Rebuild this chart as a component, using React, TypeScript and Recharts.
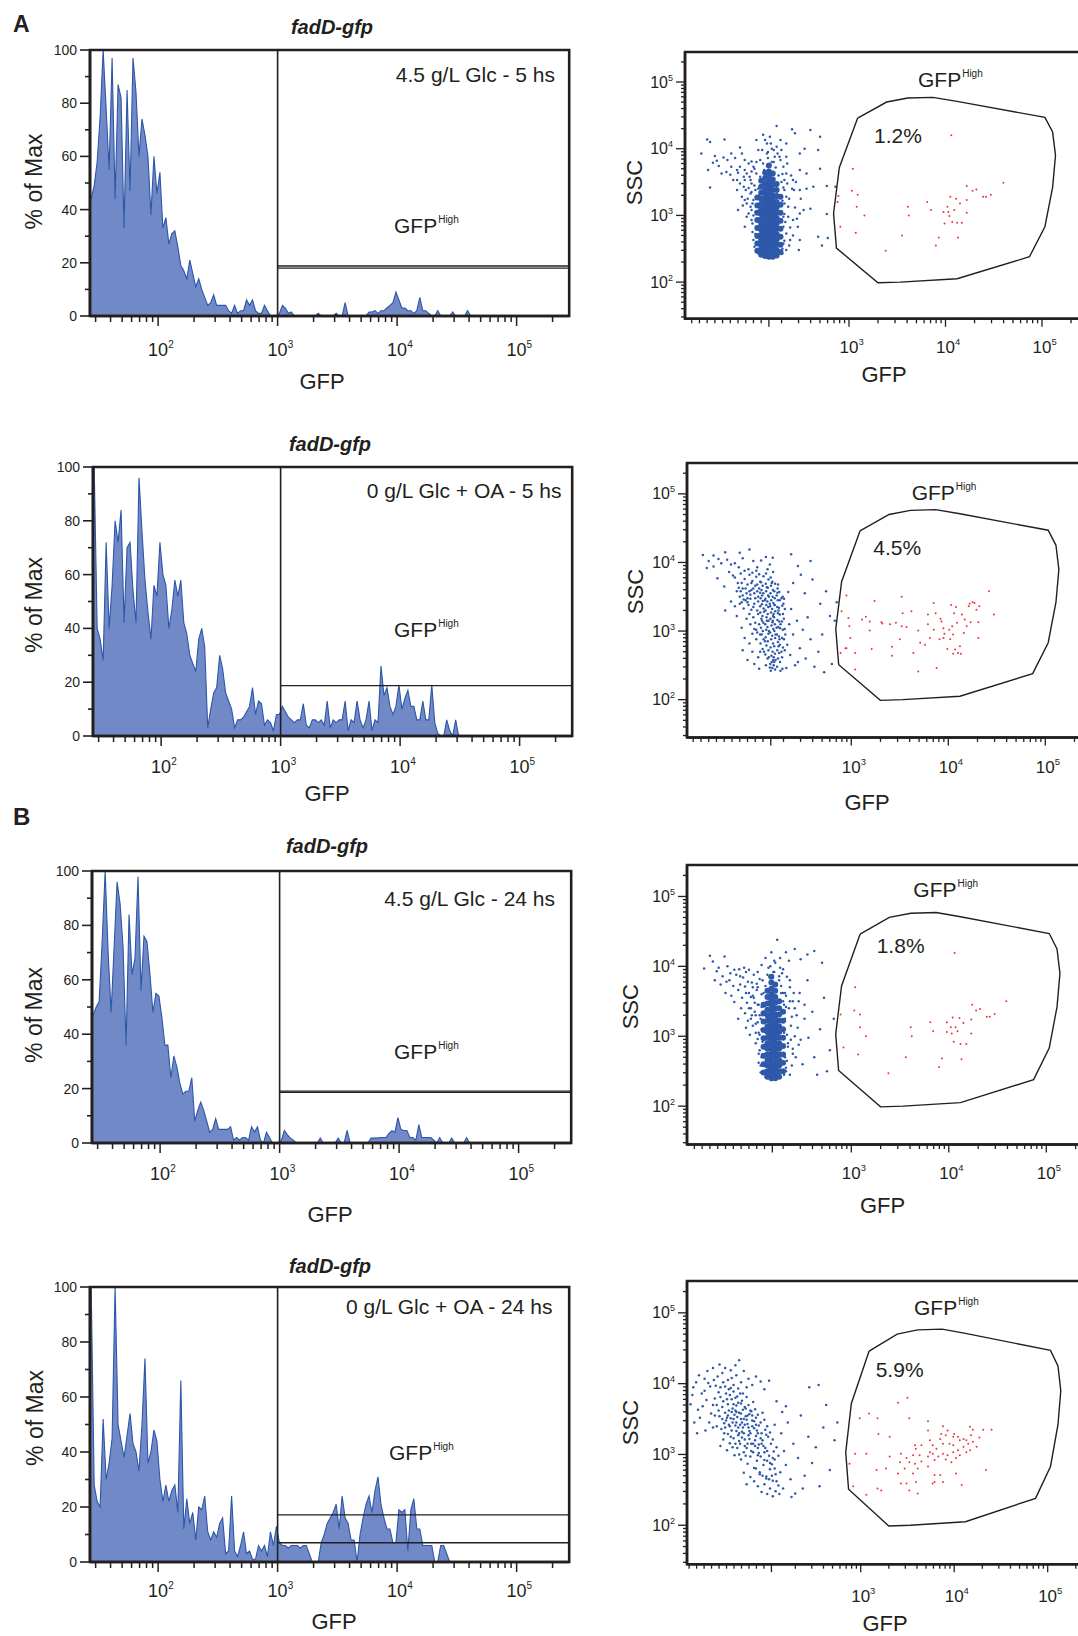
import React from "react";
import {
  AreaChart,
  Area,
  ScatterChart,
  Scatter,
  XAxis,
  YAxis,
  ReferenceLine,
  ReferenceArea,
} from "recharts";

const FONT = "'Liberation Sans', Arial, Helvetica, sans-serif";
const INK = "#231f20";
const HIST_FILL = "#7189c7";
const HIST_LINE = "#2d56a8";
const BLUE = "#2e59aa";
const RED = "#e8343c";

// histogram bins: % of max, one value per 0.025 decade starting at 10^1.44
const BIN_START = 1.44;
const BIN_WIDTH = 0.025;

const histGlc5h = [
  44, 49, 58, 75, 100, 78, 55, 97, 44, 87, 82, 33, 85, 47, 97, 84, 60, 74, 68, 60,
  38, 60, 46, 54, 33, 37, 27, 31, 32, 26, 19, 17, 14, 21, 16, 11, 14, 10, 7, 4,
  5, 8, 4, 4, 4, 4, 2, 1, 4, 1, 2, 2, 6, 4, 6, 2, 1, 1, 4, 2, 0, 0,
  0, 1, 4, 3, 1, 1.5, 0, 0, 0, 0, 0, 0, 0, 0, 1, 0, 0, 0, 0, 0,
  1, 0, 0, 5, 0, 0, 0, 0, 0, 0, 0, 1.5, 1.5, 2, 1, 2, 2, 3, 4, 5,
  9, 6, 3, 3, 2, 2, 1, 2, 7, 2, 2, 1, 0, 0, 2, 0, 0, 0, 0, 1.5,
  0, 0, 0, 0, 2, 0, 0, 0, 0,
];

const histOA5h = [
  100, 40, 36, 28, 72, 40, 56, 80, 72, 84, 42, 70, 72, 54, 42, 96, 76, 58, 46, 36,
  56, 52, 72, 60, 56, 40, 47, 58, 52, 58, 42, 38, 30, 27, 24, 36, 40, 33, 3, 10,
  16, 18, 30, 25, 16, 13, 10, 3, 6, 6, 7, 9, 11, 18, 8, 13, 12, 4, 6, 5, 2, 8,
  8, 11, 9, 7, 6, 5, 6, 6, 12, 4, 3, 6, 6, 5, 6, 4, 13, 3, 6, 5,
  6, 6, 13, 2, 6, 5, 13, 6, 3, 6, 13, 2, 6, 5, 26, 15, 18, 11, 8, 11,
  19, 10, 14, 17, 11, 11, 6, 6, 13, 6, 6, 19, 5, 1, 0, 0, 6, 2, 0, 6,
  0, 0, 0, 0, 0, 0, 0, 0, 0,
];

const histGlc24h = [
  47, 50, 52, 74, 100, 70, 48, 72, 96, 88, 72, 36, 84, 62, 68, 98, 56, 76, 74, 62,
  48, 55, 54, 46, 36, 36, 24, 32, 28, 22, 18, 19, 19, 24, 8, 12, 15, 12, 8, 4,
  5, 9, 5, 5, 5, 5, 6, 1, 2, 1, 2, 2, 1, 6, 4, 6, 1, 0, 4, 2, 0, 0,
  0, 1, 4.6, 3, 1.8, 1, 0, 0, 0, 0, 0, 0, 0, 0, 1.8, 0, 0, 0, 0, 0,
  1.8, 0, 0, 4.6, 0, 0, 0, 0, 0, 0, 0, 1.8, 1.8, 1.8, 2, 2, 2, 3.5, 4.5, 4,
  9.3, 5, 4.6, 4.6, 2, 2, 1, 6.8, 2, 2, 2, 2, 1, 0, 2, 0, 0, 0, 1.8, 0,
  0, 0, 0, 2, 0, 0, 0, 0, 0,
];

const histOA24h = [
  100, 28, 22, 20, 52, 30, 36, 45, 100, 50, 44, 38, 46, 54, 43, 40, 33, 50, 74, 36,
  40, 48, 44, 30, 22, 28, 22, 26, 28, 18, 66, 12, 23, 14, 18, 8, 20, 19, 24, 11,
  8, 11, 9, 14, 16, 3, 4, 24, 4, 2, 6, 11, 3, 4, 1, 1, 6, 4, 6, 2, 11, 6,
  13, 7, 6, 6, 5, 6, 6, 6, 5, 6, 6, 3, 0, 0, 0, 7, 10, 14, 16, 18,
  21, 12, 24, 16, 14, 8, 8, 0, 10, 16, 21, 24, 18, 26, 31, 21, 16, 12, 12, 7,
  7, 19, 18, 19, 4, 19, 23, 12, 12, 6, 6, 6, 6, 0, 0, 6, 6, 3, 0, 0,
  0, 0, 0, 0, 0, 0, 0, 0, 0,
];

// scatter data: [log10 GFP (display), log10 SSC]
const s1Halo = [
  [1.47, 3.93], [1.53, 4.14], [1.56, 4.1], [1.54, 3.68], [1.56, 3.42], [1.61, 3.89], [1.63, 3.82], [1.71, 4.14], [1.7, 3.87], [1.74, 3.83],
  [1.78, 3.93], [1.82, 3.86], [1.87, 4.02], [1.89, 3.93], [1.85, 3.64], [1.8, 3.53], [1.77, 3.61], [1.84, 3.38], [1.85, 3.08], [1.94, 3.63],
  [1.96, 3.78], [1.99, 3.81], [1.91, 3.43], [1.98, 3.33], [1.94, 3.18], [1.96, 3.03], [1.99, 2.93], [1.92, 2.83], [2.0, 2.75], [2.01, 2.63],
  [2.02, 2.53], [2.04, 4.13], [2.06, 3.98], [2.11, 4.21], [2.15, 4.08], [2.18, 4.18], [2.25, 4.34], [2.22, 3.98], [2.29, 4.13], [2.3, 3.98],
  [2.35, 4.08], [2.35, 3.88], [2.41, 4.29], [2.44, 4.23], [2.49, 3.93], [2.54, 4.0], [2.6, 4.28], [2.7, 4.18], [2.68, 3.98], [2.49, 3.68],
  [2.35, 3.63], [2.42, 3.53], [2.43, 3.38], [2.35, 3.28], [2.49, 3.38], [2.56, 3.4], [2.37, 3.13], [2.42, 2.93], [2.47, 2.83], [2.49, 3.03],
  [2.53, 3.08], [2.6, 3.1], [2.49, 2.63], [2.39, 2.63], [2.35, 2.48], [2.48, 2.48], [2.68, 2.68], [2.72, 2.55], [2.77, 3.02], [2.77, 3.44],
  [2.7, 3.7], [2.63, 3.43], [2.56, 3.63], [2.35, 2.73], [2.32, 2.83], [2.32, 2.58], [2.31, 2.43], [2.06, 2.43], [2.08, 2.63], [2.04, 2.83],
  [2.06, 3.13], [2.03, 3.38], [2.04, 3.63], [2.08, 3.83], [2.04, 3.8], [2.01, 3.73], [1.98, 3.53], [1.92, 3.53], [1.87, 3.48], [1.89, 3.28],
  [1.92, 3.23], [1.98, 3.13], [1.94, 2.98], [1.99, 3.08], [2.01, 3.0], [2.01, 3.23], [1.99, 3.48], [1.96, 3.41], [1.91, 3.58], [1.84, 3.53],
  [1.73, 3.65], [1.78, 3.73], [1.84, 3.68], [1.87, 3.73], [1.92, 3.68], [1.99, 3.66], [1.68, 3.63], [1.65, 3.74], [1.59, 3.79], [1.92, 3.83],
  [2.1, 3.98], [2.15, 3.93], [2.23, 3.88], [2.29, 3.83], [2.32, 3.73], [2.33, 3.53], [2.33, 3.38], [2.33, 3.18], [2.32, 2.98], [2.3, 2.68],
  [2.25, 4.03], [2.19, 4.08], [2.13, 4.13], [2.16, 3.86], [2.22, 3.8], [2.11, 3.78], [2.78, 2.66], [2.86, 3.43],
  [1.97, 3.58], [1.99, 3.35], [2.0, 3.18], [2.02, 3.45], [2.03, 3.05], [2.03, 2.72], [2.04, 3.25], [2.05, 2.58], [2.02, 3.7], [2.0, 2.88],
  [2.31, 3.62], [2.32, 3.42], [2.31, 3.22], [2.33, 3.02], [2.34, 2.9], [2.31, 2.5], [2.33, 2.62], [2.36, 3.48], [2.38, 3.25], [2.37, 2.98],
  [2.39, 2.82], [2.4, 3.6], [2.41, 3.4], [2.44, 3.12], [2.45, 3.5], [2.38, 2.55], [2.42, 2.7], [2.36, 3.78], [2.28, 3.88], [2.24, 3.72],
  [2.2, 3.8], [2.15, 3.74], [2.12, 3.68], [2.27, 3.6], [2.3, 3.5], [2.08, 3.58], [2.06, 3.4], [2.07, 3.3], [2.06, 2.5], [2.3, 2.42],
  [2.26, 2.38], [2.11, 2.4], [2.16, 3.95], [2.2, 4.0], [2.26, 3.93], [1.95, 3.25], [1.93, 3.38], [1.9, 3.15], [2.46, 2.95], [2.5, 3.25],
];

const s1Core = [
  [2.05, [2.47, 2.58, 2.69, 2.81, 2.93, 3.04, 3.15, 3.27]],
  [2.09, [2.41, 2.49, 2.56, 2.64, 2.71, 2.79, 2.87, 2.94, 3.02, 3.09, 3.17, 3.25, 3.34, 3.43, 3.52]],
  [2.13, [2.39, 2.46, 2.53, 2.6, 2.68, 2.75, 2.82, 2.89, 2.97, 3.04, 3.11, 3.18, 3.25, 3.32, 3.39, 3.47, 3.56, 3.64]],
  [2.17, [2.38, 2.45, 2.52, 2.59, 2.66, 2.73, 2.8, 2.87, 2.94, 3.01, 3.08, 3.15, 3.22, 3.29, 3.36, 3.43, 3.5, 3.58, 3.66, 3.75]],
  [2.21, [2.38, 2.45, 2.53, 2.6, 2.67, 2.74, 2.81, 2.88, 2.95, 3.02, 3.09, 3.16, 3.23, 3.3, 3.38, 3.46, 3.54, 3.63]],
  [2.25, [2.4, 2.48, 2.56, 2.64, 2.72, 2.8, 2.88, 2.96, 3.04, 3.12, 3.2, 3.29, 3.38, 3.47]],
  [2.29, [2.45, 2.56, 2.68, 2.8, 2.92, 3.04, 3.16, 3.28]],
];

const s1Red = [
  [4.06, 4.2], [3.04, 3.7], [3.03, 3.37], [3.09, 3.31], [2.89, 3.29], [2.88, 3.2], [3.08, 3.13], [3.16, 3.0], [2.91, 2.83], [3.07, 2.74],
  [3.38, 2.47], [3.55, 2.7], [3.61, 3.13], [3.62, 3.0], [3.85, 3.08], [3.81, 3.2], [3.9, 2.55], [3.93, 2.67], [3.98, 3.05], [3.99, 2.88],
  [4.02, 3.13], [4.03, 3.05], [4.04, 2.99], [4.05, 3.28], [4.07, 2.9], [4.09, 3.08], [4.11, 3.25], [4.12, 2.89], [4.13, 2.67], [4.15, 3.18],
  [4.17, 2.89], [4.22, 3.44], [4.22, 3.23], [4.22, 3.04], [4.28, 3.37], [4.32, 3.39], [4.39, 3.28], [4.42, 3.28], [4.47, 3.31], [4.6, 3.49],
];

const s2Blue = [
  // sparse upper left
  [1.47, 4.11], [1.53, 4.02], [1.58, 4.1], [1.63, 4.05], [1.66, 3.99], [1.7, 4.15], [1.72, 4.04], [1.76, 3.97], [1.8, 3.99], [1.78, 3.81],
  [1.84, 3.93], [1.88, 4.06], [1.69, 3.65], [1.74, 3.86], [1.62, 3.77], [1.58, 3.94], [1.51, 3.92], [1.85, 4.14], [1.95, 4.19], [1.99, 4.02],
  [2.03, 3.93], [2.07, 4.03], [2.12, 4.08], [2.16, 3.97], [2.19, 4.07], [1.76, 3.43], [1.7, 3.3], [1.82, 3.22],
  // upper-left arm
  [1.8, 3.78], [1.83, 3.7], [1.86, 3.84], [1.88, 3.62], [1.9, 3.76], [1.92, 3.55], [1.93, 3.68], [1.95, 3.82], [1.96, 3.47], [1.97, 3.6],
  [1.98, 3.73], [2.0, 3.4], [2.0, 3.55], [2.01, 3.66], [2.02, 3.79], [2.03, 3.3], [2.04, 3.5], [2.05, 3.62], [2.06, 3.72], [1.85, 3.5],
  [1.87, 3.42], [1.89, 3.33], [1.91, 3.45], [1.94, 3.38], [1.95, 3.25], [1.97, 3.31], [1.99, 3.2], [2.01, 3.12], [1.82, 3.58], [1.84, 3.63],
  [1.86, 3.58], [1.9, 3.88], [1.94, 3.9], [1.98, 3.85], [2.02, 3.88], [2.05, 3.83], [1.88, 3.52], [1.93, 3.48], [1.96, 3.53], [1.99, 3.62],
  [2.03, 3.58], [2.04, 3.43], [2.06, 3.36], [1.92, 3.18], [1.96, 3.1], [2.0, 3.03], [1.87, 3.05], [1.8, 3.36],
  // main cluster
  [2.064, 2.82], [2.076, 2.95], [2.068, 3.05], [2.073, 3.18], [2.062, 3.27], [2.078, 3.39], [2.066, 3.48], [2.074, 3.6], [2.069, 3.71],
  [2.085, 2.74], [2.096, 2.88], [2.088, 3.0], [2.094, 3.12], [2.084, 3.22], [2.097, 3.33], [2.087, 3.44], [2.093, 3.55], [2.086, 3.66], [2.095, 3.8],
  [2.114, 2.66], [2.125, 2.79], [2.117, 2.91], [2.123, 3.02], [2.113, 3.1], [2.126, 3.2], [2.116, 3.3], [2.124, 3.38], [2.115, 3.47], [2.122, 3.58], [2.118, 3.69], [2.121, 3.84],
  [2.137, 2.6], [2.146, 2.72], [2.139, 2.85], [2.145, 2.96], [2.136, 3.06], [2.147, 3.15], [2.138, 3.25], [2.144, 3.35], [2.135, 3.43], [2.143, 3.52], [2.14, 3.63], [2.146, 3.75], [2.137, 3.9],
  [2.165, 2.52], [2.176, 2.64], [2.168, 2.76], [2.174, 2.88], [2.163, 2.98], [2.177, 3.08], [2.166, 3.18], [2.173, 3.27], [2.164, 3.36], [2.175, 3.45], [2.167, 3.55], [2.172, 3.66], [2.169, 3.78],
  [2.186, 2.46], [2.195, 2.58], [2.188, 2.7], [2.194, 2.82], [2.185, 2.93], [2.196, 3.03], [2.187, 3.13], [2.193, 3.22], [2.184, 3.32], [2.197, 3.41], [2.189, 3.5], [2.192, 3.6], [2.186, 3.72], [2.194, 3.86],
  [2.214, 2.44], [2.206, 2.55], [2.213, 2.67], [2.205, 2.78], [2.215, 2.9], [2.207, 3.0], [2.212, 3.1], [2.204, 3.2], [2.216, 3.29], [2.208, 3.38], [2.211, 3.48], [2.206, 3.58], [2.214, 3.69],
  [2.235, 2.48], [2.245, 2.6], [2.237, 2.72], [2.243, 2.84], [2.234, 2.95], [2.246, 3.06], [2.238, 3.16], [2.244, 3.26], [2.236, 3.35], [2.242, 3.45], [2.239, 3.56], [2.245, 3.68],
  [2.265, 2.55], [2.256, 2.68], [2.264, 2.8], [2.255, 2.92], [2.266, 3.04], [2.257, 3.14], [2.263, 3.24], [2.254, 3.34], [2.262, 3.45], [2.258, 3.57],
  [2.286, 2.62], [2.295, 2.76], [2.287, 2.9], [2.294, 3.02], [2.285, 3.14], [2.296, 3.25], [2.288, 3.37], [2.293, 3.5],
  [2.314, 2.72], [2.306, 2.88], [2.313, 3.03], [2.305, 3.18], [2.315, 3.32], [2.307, 3.47],
  [2.05, 3.1], [2.06, 2.95], [2.08, 3.52], [2.1, 3.28], [2.11, 2.85], [2.13, 3.64], [2.15, 3.0], [2.16, 3.4], [2.18, 2.55], [2.18, 3.7],
  [2.2, 2.62], [2.2, 3.25], [2.22, 2.95], [2.23, 3.52], [2.25, 2.78], [2.25, 3.3], [2.27, 3.1], [2.28, 2.7], [2.3, 3.4], [2.32, 2.95],
  [2.03, 3.68], [2.01, 3.48], [1.99, 3.35], [1.97, 3.7], [1.95, 3.58], [1.93, 3.42], [1.91, 3.62], [1.89, 3.46], [1.87, 3.7], [1.85, 3.4],
  [2.1, 2.7], [2.12, 2.5], [2.15, 2.62], [2.16, 2.47], [2.2, 2.5], [2.22, 2.58], [2.17, 2.42], [2.13, 3.15], [2.15, 3.5], [2.11, 3.45],
  [2.19, 3.15], [2.21, 3.38], [2.23, 3.05], [2.24, 3.62], [2.26, 2.88], [2.28, 3.48], [2.08, 3.15], [2.06, 3.56], [2.04, 3.25], [2.02, 3.02],
  // right side, sparse
  [2.35, 3.57], [2.38, 3.32], [2.36, 3.1], [2.4, 2.95], [2.34, 2.8], [2.37, 2.65], [2.42, 2.5], [2.45, 2.55], [2.4, 3.7], [2.48, 3.82],
  [2.52, 3.55], [2.55, 3.2], [2.5, 3.02], [2.58, 2.88], [2.53, 2.6], [2.62, 2.48], [2.66, 2.7], [2.7, 2.95], [2.68, 3.4], [2.74, 3.58],
  [2.78, 3.22], [2.8, 2.52], [2.72, 2.4], [2.6, 3.75], [2.45, 3.95], [2.58, 4.02], [2.38, 4.12], [2.85, 3.42], [2.83, 3.15], [2.44, 3.15],
  [2.47, 2.75], [2.33, 2.46], [2.29, 2.45], [2.27, 2.42],
  // lower left
  [1.9, 2.9], [1.95, 2.82], [1.98, 2.7], [2.02, 2.88], [2.04, 2.62], [2.0, 2.52], [2.05, 2.45], [1.93, 2.58], [1.88, 2.72], [2.03, 2.98],
  [1.98, 2.96], [2.06, 2.7],
];

const s2Red = [
  [2.95, 3.52], [2.97, 3.19], [2.9, 3.29], [2.89, 2.68], [2.94, 2.75], [2.95, 2.75], [2.99, 2.9], [2.98, 3.07], [3.04, 2.68], [3.04, 2.44],
  [3.11, 3.17], [3.15, 3.21], [3.19, 3.14], [3.19, 3.01], [3.21, 2.74], [3.24, 3.44], [3.32, 3.11], [3.31, 3.13], [3.42, 2.77], [3.42, 2.64],
  [3.46, 3.12], [3.52, 3.5], [3.53, 3.26], [3.52, 3.07], [3.57, 3.06], [3.62, 3.29], [3.69, 3.01], [3.69, 2.41], [3.76, 2.8], [3.79, 3.24],
  [3.79, 3.1], [3.81, 2.9], [3.87, 3.26], [3.88, 2.46], [3.92, 3.18], [3.93, 3.14], [3.95, 3.04], [3.95, 2.9], [3.96, 2.96], [3.99, 2.74],
  [4.03, 3.38], [4.01, 3.02], [4.04, 3.07], [4.05, 2.67], [4.06, 3.26], [4.07, 2.73], [4.08, 3.35], [4.09, 3.12], [4.1, 2.68], [4.12, 2.78],
  [4.13, 2.67], [4.17, 3.17], [4.21, 3.36], [4.22, 3.4], [4.23, 3.13], [4.25, 3.42], [4.27, 3.41], [4.29, 3.31], [4.31, 3.13], [4.31, 2.9],
  [4.32, 3.36], [4.42, 3.58], [4.47, 3.24], [3.85, 3.41], [3.91, 2.88], [3.71, 2.83], [3.64, 2.68], [4.02, 2.88], [4.05, 2.95], [4.16, 2.97],
  [4.19, 3.07], [4.14, 3.24], [3.4, 3.1], [3.5, 2.88], [3.85, 3.02],
];

const s3Halo = [
  [1.49, 3.97], [1.55, 4.15], [1.58, 4.07], [1.62, 3.93], [1.7, 4.14], [1.68, 3.86], [1.73, 4.0], [1.75, 3.8], [1.79, 3.72], [1.82, 3.88],
  [1.86, 3.86], [1.89, 3.84], [1.66, 3.74], [1.71, 3.62], [1.77, 3.58], [1.8, 3.49], [1.84, 3.66], [1.88, 3.55], [1.91, 3.71], [1.93, 3.48],
  [1.95, 3.62], [1.97, 3.4], [1.98, 3.77], [2.0, 3.55], [2.02, 3.3], [2.03, 3.66], [2.05, 3.45], [1.87, 3.4], [1.91, 3.33], [1.94, 3.22],
  [1.99, 3.15], [2.02, 3.05], [2.04, 2.96], [1.96, 3.02], [1.84, 3.25], [2.06, 2.8], [2.05, 2.62], [2.07, 2.48], [2.06, 3.82], [2.04, 3.92],
  [2.0, 3.88], [1.95, 3.95], [1.9, 3.98], [2.08, 4.02], [2.12, 4.12], [2.15, 3.98], [2.18, 4.2], [2.22, 4.05], [2.24, 4.38], [2.27, 4.12],
  [2.3, 3.96], [2.33, 4.2], [2.36, 4.08], [2.42, 4.25], [2.48, 4.1], [2.55, 4.17], [2.62, 4.22], [2.7, 4.05], [2.34, 3.85], [2.37, 3.7],
  [2.33, 3.58], [2.4, 3.5], [2.36, 3.4], [2.32, 3.25], [2.38, 3.15], [2.44, 3.3], [2.47, 3.62], [2.52, 3.45], [2.55, 3.8], [2.6, 3.35],
  [2.42, 3.0], [2.35, 2.9], [2.4, 2.75], [2.46, 2.88], [2.5, 2.6], [2.33, 2.55], [2.37, 2.45], [2.56, 2.98], [2.62, 2.7], [2.68, 3.1],
  [2.72, 3.55], [2.78, 2.8], [2.75, 2.5], [2.65, 2.45], [2.82, 3.25], [2.32, 2.7], [2.31, 3.05], [2.2, 3.92], [2.14, 3.88], [2.26, 3.86],
  [2.09, 3.8], [2.28, 3.72], [2.31, 3.45], [2.08, 3.6], [2.09, 3.3], [2.08, 3.1], [2.09, 2.92], [2.08, 2.7], [2.1, 2.5], [2.31, 2.85],
  [2.3, 3.62], [1.92, 3.92], [1.85, 3.96], [1.8, 3.95], [1.76, 3.9], [1.64, 3.98], [1.6, 3.8], [1.72, 3.78], [1.94, 3.78], [1.99, 3.7],
  [2.03, 3.75], [2.01, 3.48], [1.97, 3.56], [1.92, 3.62], [1.86, 3.74], [1.98, 3.3], [2.04, 3.2], [2.07, 3.25], [2.06, 3.02],
  [1.99, 3.58], [2.01, 3.35], [2.02, 3.18], [2.04, 3.45], [2.05, 3.05], [2.05, 2.75], [2.06, 3.3], [2.07, 2.58], [2.04, 3.7], [2.02, 2.9],
  [2.32, 3.62], [2.33, 3.42], [2.32, 3.22], [2.34, 3.02], [2.35, 2.85], [2.33, 2.5], [2.34, 2.65], [2.37, 3.5], [2.39, 3.28], [2.38, 2.95],
  [2.4, 2.82], [2.41, 3.62], [2.42, 3.4], [2.45, 3.12], [2.46, 3.5], [2.39, 2.58], [2.43, 2.7], [2.37, 3.8], [2.29, 3.9], [2.26, 3.8],
  [2.21, 3.92], [2.16, 3.85], [2.12, 3.72], [2.28, 3.62], [2.3, 3.5], [2.1, 3.62], [2.08, 3.42], [2.09, 3.2], [2.09, 2.6], [2.31, 2.45],
  [2.27, 2.42], [2.12, 2.42], [2.17, 4.0], [2.21, 4.08], [2.27, 3.98], [1.97, 3.25], [1.95, 3.4], [1.92, 3.12], [2.48, 2.95], [2.52, 3.25],
];

const s3Core = [
  [2.1, [2.48, 2.6, 2.72, 2.85, 2.97, 3.09, 3.21, 3.33, 3.45]],
  [2.14, [2.42, 2.5, 2.58, 2.66, 2.74, 2.82, 2.9, 2.98, 3.06, 3.14, 3.22, 3.3, 3.38, 3.47, 3.56, 3.65]],
  [2.18, [2.4, 2.47, 2.54, 2.61, 2.68, 2.75, 2.82, 2.89, 2.96, 3.03, 3.1, 3.17, 3.24, 3.31, 3.38, 3.45, 3.52, 3.6, 3.68, 3.77, 3.85]],
  [2.22, [2.4, 2.47, 2.54, 2.61, 2.69, 2.76, 2.83, 2.9, 2.97, 3.04, 3.11, 3.18, 3.25, 3.32, 3.4, 3.48, 3.56, 3.65, 3.74]],
  [2.26, [2.42, 2.5, 2.58, 2.66, 2.74, 2.82, 2.9, 2.98, 3.06, 3.14, 3.22, 3.31, 3.4, 3.5]],
  [2.3, [2.5, 2.62, 2.74, 2.86, 2.98, 3.1, 3.22, 3.35]],
];

const s3Red = [
  [4.06, 4.19], [3.04, 3.7], [2.89, 3.31], [3.03, 3.37], [3.09, 3.31], [3.09, 3.13], [3.15, 3.0], [2.92, 2.84], [3.07, 2.74], [3.38, 2.47],
  [3.56, 2.7], [3.61, 3.13], [3.62, 3.0], [3.81, 3.2], [3.84, 3.07], [3.9, 2.56], [3.93, 2.68], [3.98, 3.06], [4.02, 3.13], [4.03, 3.04],
  [4.04, 3.27], [4.05, 2.92], [4.07, 3.13], [4.09, 3.07], [4.11, 3.26], [4.12, 2.89], [4.13, 2.67], [4.15, 3.19], [4.18, 2.89], [4.23, 3.04],
  [4.23, 3.24], [4.24, 3.45], [4.28, 3.37], [4.32, 3.39], [4.39, 3.28], [4.42, 3.28], [4.47, 3.32], [4.59, 3.5], [3.98, 3.2],
];

const s4Blue = [
  // upper left, sparse
  [1.18, 3.71], [1.21, 3.95], [1.24, 4.02], [1.27, 4.12], [1.3, 3.86], [1.33, 4.07], [1.36, 4.18], [1.39, 3.96], [1.42, 4.22], [1.44, 3.79],
  [1.47, 4.1], [1.49, 4.27], [1.26, 3.63], [1.31, 3.68], [1.35, 3.77], [1.4, 3.58], [1.22, 3.45], [1.28, 3.52], [1.45, 3.97], [1.48, 3.88],
  [1.2, 3.84], [1.33, 3.9], [1.37, 4.01], [1.43, 4.05], [1.46, 3.7], [1.38, 3.45], [1.34, 3.34], [1.42, 3.38], [1.25, 3.3],
  // top
  [1.52, 4.15], [1.55, 4.22], [1.58, 4.05], [1.61, 4.19], [1.64, 3.98], [1.67, 4.12], [1.7, 4.33], [1.72, 4.02], [1.75, 4.18], [1.78, 3.95],
  [1.55, 3.96], [1.62, 4.08], [1.69, 3.93], [1.8, 4.07], [1.84, 3.98], [1.88, 4.1], [1.93, 4.03], [1.97, 3.92], [2.02, 4.04], [1.66, 4.26],
  [1.53, 4.02], [1.59, 3.92],
  // dense centre
  [1.5, 3.12], [1.51, 3.36], [1.49, 3.54], [1.52, 3.67], [1.5, 3.81], [1.53, 3.21], [1.54, 3.44], [1.55, 3.59], [1.53, 3.75], [1.56, 3.86],
  [1.57, 3.06], [1.58, 3.29], [1.56, 3.48], [1.59, 3.62], [1.58, 3.71], [1.6, 3.84], [1.61, 3.94], [1.6, 3.16], [1.62, 3.34], [1.61, 3.51],
  [1.63, 3.65], [1.62, 3.78], [1.64, 3.89], [1.65, 2.99], [1.64, 3.23], [1.66, 3.41], [1.65, 3.56], [1.67, 3.69], [1.66, 3.8], [1.68, 3.09],
  [1.69, 3.27], [1.67, 3.45], [1.7, 3.59], [1.69, 3.73], [1.71, 3.86], [1.72, 2.93], [1.71, 3.15], [1.73, 3.32], [1.72, 3.5], [1.74, 3.63],
  [1.73, 3.76], [1.75, 3.03], [1.76, 3.21], [1.74, 3.38], [1.77, 3.54], [1.76, 3.67], [1.78, 3.81], [1.79, 2.87], [1.78, 3.09], [1.8, 3.27],
  [1.79, 3.43], [1.81, 3.57], [1.8, 3.7], [1.82, 2.97], [1.83, 3.15], [1.81, 3.33], [1.84, 3.48], [1.83, 3.61], [1.85, 3.74], [1.86, 2.81],
  [1.85, 3.03], [1.87, 3.2], [1.86, 3.37], [1.88, 3.52], [1.87, 3.64], [1.89, 2.91], [1.9, 3.09], [1.88, 3.26], [1.91, 3.41], [1.9, 3.56],
  [1.92, 2.75], [1.93, 2.97], [1.91, 3.14], [1.94, 3.3], [1.93, 3.45], [1.95, 3.59], [1.96, 2.85], [1.97, 3.03], [1.95, 3.2], [1.98, 3.35],
  [1.97, 3.49], [1.99, 2.69], [2.0, 2.91], [1.98, 3.09], [2.01, 3.25], [2.0, 3.4], [2.03, 2.79], [2.02, 2.98], [2.04, 3.15], [2.03, 3.31],
  [2.06, 2.63], [2.05, 2.86], [2.07, 3.04], [2.06, 3.21], [2.09, 2.72], [2.08, 2.93], [2.1, 3.1],
  [1.63, 3.45], [1.66, 3.62], [1.69, 3.38], [1.72, 3.58], [1.75, 3.3], [1.78, 3.49], [1.81, 3.22], [1.84, 3.4], [1.87, 3.12], [1.7, 3.19],
  [1.76, 3.42], [1.82, 3.62], [1.64, 3.71], [1.74, 3.86], [1.86, 3.47], [1.89, 3.34], [1.68, 3.53], [1.79, 3.15], [1.93, 3.23], [1.6, 3.4],
  [1.57, 3.52], [1.54, 3.3], [1.71, 3.42], [1.77, 3.65], [1.83, 3.05], [1.9, 2.99], [1.96, 3.12], [1.99, 3.28], [1.67, 3.33], [1.73, 3.24],
  [1.55, 3.38], [1.58, 3.55], [1.61, 3.25], [1.64, 3.5], [1.67, 3.6], [1.7, 3.3], [1.73, 3.45], [1.76, 3.12], [1.79, 3.55], [1.82, 3.3],
  [1.85, 3.15], [1.88, 3.42], [1.91, 3.02], [1.94, 3.15], [1.97, 2.92], [2.0, 3.05], [2.03, 2.88], [2.06, 2.95], [1.72, 3.72], [1.68, 3.82],
  [1.62, 3.6], [1.59, 3.42], [1.66, 3.15], [1.75, 3.5], [1.8, 3.38], [1.84, 3.55], [1.9, 3.3], [1.95, 2.7], [2.02, 2.65], [2.08, 2.8],
  [1.52, 3.5], [1.48, 3.62], [1.46, 3.4], [1.44, 3.55], [1.42, 3.7], [1.5, 3.95], [1.57, 3.78], [1.63, 3.1], [1.7, 3.0], [1.77, 2.98],
  // lower part
  [1.86, 2.62], [1.9, 2.55], [1.94, 2.47], [1.97, 2.58], [2.0, 2.44], [2.03, 2.52], [2.06, 2.41], [2.09, 2.48], [2.12, 2.56], [1.88, 2.8],
  [1.92, 2.72], [1.99, 2.66], [2.05, 2.7], [2.1, 2.62], [2.14, 2.75], [1.82, 2.68], [1.78, 2.58], [1.75, 2.74], [2.17, 2.52], [2.13, 2.44],
  // right tail
  [2.15, 3.3], [2.18, 3.05], [2.2, 2.85], [2.22, 3.45], [2.25, 2.65], [2.28, 3.15], [2.3, 2.45], [2.33, 2.95], [2.36, 3.55], [2.4, 2.7],
  [2.44, 3.25], [2.48, 2.88], [2.52, 3.1], [2.56, 2.55], [2.6, 3.38], [2.63, 3.7], [2.67, 2.78], [2.72, 3.2], [2.75, 3.45], [2.45, 3.95],
  [2.55, 3.98], [2.38, 2.52], [2.26, 2.4], [2.12, 2.98], [2.16, 3.6], [2.1, 3.75], [2.08, 3.42], [2.2, 3.68],
];

const s4Red = [
  [3.5, 3.8], [3.4, 3.73], [3.09, 3.58], [3.18, 3.51], [2.99, 3.51], [3.52, 3.51], [3.72, 3.47], [3.19, 3.29], [3.88, 3.4], [3.93, 3.34],
  [4.2, 3.35], [4.4, 3.35], [4.17, 3.39], [3.91, 3.27], [3.85, 3.22], [3.99, 3.25], [4.04, 3.25], [4.06, 3.2], [4.1, 3.22], [4.13, 3.2],
  [4.15, 3.15], [4.2, 3.18], [4.27, 3.24], [4.17, 3.06], [4.1, 3.11], [4.04, 3.06], [3.99, 3.13], [3.95, 3.15], [3.88, 3.15], [3.77, 3.13],
  [3.81, 3.08], [3.74, 3.03], [3.65, 3.13], [3.59, 3.08], [3.56, 2.99], [3.49, 2.95], [3.43, 3.01], [3.52, 2.89], [3.58, 2.87], [3.63, 2.99],
  [3.72, 2.97], [3.77, 3.01], [3.83, 2.97], [3.88, 3.01], [3.93, 2.99], [3.99, 3.03], [4.02, 2.95], [4.06, 2.99], [4.13, 3.03], [4.24, 3.11],
  [4.34, 2.78], [4.02, 2.73], [3.85, 2.71], [3.79, 2.61], [3.77, 2.59], [3.88, 2.61], [4.08, 2.57], [3.65, 2.9], [3.61, 2.8], [3.56, 2.73],
  [3.49, 2.59], [3.43, 2.59], [3.52, 2.49], [3.61, 2.45], [3.79, 2.71], [3.72, 2.83], [3.91, 2.93], [3.97, 2.89], [3.79, 2.92], [3.74, 3.2],
  [3.86, 3.29], [4.0, 3.29], [4.18, 3.27], [4.31, 3.35], [3.06, 3.01], [2.94, 3.01], [2.88, 2.87], [3.17, 2.78], [3.27, 2.8], [3.18, 2.52],
  [3.22, 2.49], [2.92, 2.55], [3.06, 2.43], [3.31, 3.25], [3.42, 2.89], [3.47, 2.8], [3.58, 3.13], [3.72, 3.34], [3.31, 2.97], [3.4, 2.73],
  [3.59, 2.61],
];

// GFP-high gate, same in every dot plot
const gfpHighGate = [
  [3.09, 4.46], [3.39, 4.7], [3.61, 4.76], [3.87, 4.77], [4.12, 4.71], [5.03, 4.47], [5.11, 4.25], [5.14, 3.9], [5.11, 3.42],
  [5.03, 2.83], [4.87, 2.38], [4.12, 2.05], [3.53, 2.0], [3.3, 1.99], [2.87, 2.51], [2.84, 3.03], [2.9, 3.72], [3.09, 4.46],
];

const pts = (list: number[][]) => list.map(([x, y]) => ({ x, y }));
const cols = (list: any[]) => list.flatMap(([x, ys]: [number, number[]]) => ys.map((y) => ({ x, y })));

// ---- axes
const HIST_X_DOMAIN = [1.43, 5.44];
const HIST_DECADE = 119.5;
const SC_Y_DOMAIN = [1.45, 5.45];
const SC_X_MAX = 5.45;

function logMinors(lo: number, hi: number, decades: number[]) {
  const out: number[] = [];
  decades.forEach((d) => {
    for (let k = 2; k <= 9; k++) {
      const v = Math.log10(k * Math.pow(10, d));
      if (v > lo && v < hi) out.push(v);
    }
  });
  return out;
}

const HIST_X_TICKS = [2, 3, 4, 5, ...logMinors(1.43, 5.44, [1, 2, 3, 4, 5])].sort((a, b) => a - b);
const HIST_Y_TICKS = [0, 10, 20, 30, 40, 50, 60, 70, 80, 90, 100];
const SC_Y_TICKS = [2, 3, 4, 5, ...logMinors(1.45, 5.45, [1, 2, 3, 4, 5])].sort((a, b) => a - b);

const near = (list: number[], v: number) => list.some((m) => Math.abs(m - v) < 1e-6);

function HistXTick(props: any) {
  const { x, y, payload, labelDy } = props;
  const v = payload.value;
  const major = near([2, 3, 4, 5], v);
  return (
    <g>
      <line x1={x} x2={x} y1={y} y2={y + (major ? 10 : 6)} stroke={INK} strokeWidth={1.5} />
      {major && (
        <text x={x - 10} y={y + labelDy} fontSize={18} fontFamily={FONT} fill={INK}>
          10<tspan dy={-8} fontSize={10}>{Math.round(v)}</tspan>
        </text>
      )}
    </g>
  );
}

function HistYTick(props: any) {
  const { x, y, payload } = props;
  const v = payload.value;
  const major = v % 20 === 0;
  return (
    <g>
      <line x1={x - (major ? 10 : 5)} x2={x} y1={y} y2={y} stroke={INK} strokeWidth={1.6} />
      {major && (
        <text x={x - 13} y={y + 5} textAnchor="end" fontSize={14} fontFamily={FONT} fill={INK}>
          {v}
        </text>
      )}
    </g>
  );
}

function ScXTick(props: any) {
  const { x, y, payload, labelDy, majors } = props;
  const v = payload.value;
  const major = near(majors, v);
  const labeled = near([3, 4, 5], v);
  return (
    <g>
      <line x1={x} x2={x} y1={y} y2={y + (major ? 8 : 4.5)} stroke={INK} strokeWidth={1.3} />
      {labeled && (
        <text x={x - 9.5} y={y + labelDy} fontSize={17} fontFamily={FONT} fill={INK}>
          10<tspan dy={-8} fontSize={9.5}>{Math.round(v)}</tspan>
        </text>
      )}
    </g>
  );
}

function ScYTick(props: any) {
  const { x, y, payload } = props;
  const v = payload.value;
  const major = near([2, 3, 4, 5], v);
  return (
    <g>
      <line x1={x - (major ? 9 : 4)} x2={x} y1={y} y2={y} stroke={INK} strokeWidth={1.3} />
      {major && (
        <text x={x - 12} y={y + 5.5} textAnchor="end" fontSize={16} fontFamily={FONT} fill={INK}>
          10<tspan dy={-7} fontSize={9}>{Math.round(v)}</tspan>
        </text>
      )}
    </g>
  );
}

const histPanels = [
  { values: histGlc5h, left: 90.4, top: 50, h: 266, labelDy: 40.5, gates: [18.8, 18.0] },
  { values: histOA5h, left: 93.4, top: 467, h: 269, labelDy: 37.3, gates: [18.7] },
  { values: histGlc24h, left: 91.9, top: 871, h: 272, labelDy: 37, gates: [19.1, 18.6] },
  { values: histOA24h, left: 90.4, top: 1287, h: 275, labelDy: 34.7, gates: [17.1, 7.0] },
];

const scatterPanels = [
  { left: 685, top: 52, h: 266.8, x3: 849, dx: 96.5, zero: 2.17, labelDy: 34.6, blue: pts(s1Halo), core: cols(s1Core), red: pts(s1Red) },
  { left: 686.7, top: 463.3, h: 274.4, x3: 851, dx: 97, zero: 2.17, labelDy: 35.6, blue: pts(s2Blue), core: [], red: pts(s2Red) },
  { left: 686.7, top: 864.5, h: 279.6, x3: 851, dx: 97.5, zero: 2.19, labelDy: 34.2, blue: pts(s3Halo), core: cols(s3Core), red: pts(s3Red) },
  { left: 687.3, top: 1281, h: 283.2, x3: 861, dx: 93.5, zero: 2.045, labelDy: 37.5, blue: pts(s4Blue), core: [], red: pts(s4Red) },
];

function HistPanel({ cfg }: { cfg: any }) {
  const [x0, x1] = HIST_X_DOMAIN;
  const plotW = (x1 - x0) * HIST_DECADE;
  const data = cfg.values.map((v: number, i: number) => ({ u: BIN_START + i * BIN_WIDTH, v }));
  data.push({ u: BIN_START + cfg.values.length * BIN_WIDTH, v: 0 });
  return (
    <div style={{ position: "absolute", left: cfg.left - 70, top: cfg.top - 10 }}>
      <AreaChart width={70 + plotW + 10} height={10 + cfg.h + 50} data={data} margin={{ top: 10, right: 10, bottom: 0, left: 0 }}>
        <XAxis
          type="number"
          dataKey="u"
          domain={HIST_X_DOMAIN}
          allowDataOverflow
          ticks={HIST_X_TICKS}
          interval={0}
          height={50}
          tickSize={0}
          tickMargin={0}
          tickLine={false}
          axisLine={{ stroke: INK, strokeWidth: 2.6 }}
          tick={(p: any) => <HistXTick {...p} labelDy={cfg.labelDy} />}
        />
        <YAxis
          type="number"
          domain={[0, 100]}
          allowDataOverflow
          ticks={HIST_Y_TICKS}
          interval={0}
          width={70}
          tickSize={0}
          tickMargin={0}
          tickLine={false}
          axisLine={{ stroke: INK, strokeWidth: 2.6 }}
          tick={(p: any) => <HistYTick {...p} />}
        />
        <Area
          type="linear"
          dataKey="v"
          stroke={HIST_LINE}
          strokeWidth={1.1}
          fill={HIST_FILL}
          fillOpacity={1}
          dot={false}
          activeDot={false}
          isAnimationActive={false}
        />
        <ReferenceLine x={3} stroke={INK} strokeWidth={1.6} ifOverflow="visible" />
        {cfg.gates.map((g: number) => (
          <ReferenceLine
            key={g}
            segment={[{ x: 3, y: g }, { x: x1, y: g }]}
            stroke={INK}
            strokeWidth={1.3}
            ifOverflow="visible"
          />
        ))}
        <ReferenceArea x1={x0} x2={x1} y1={0} y2={100} fill="none" stroke={INK} strokeWidth={2.6} ifOverflow="visible" />
      </AreaChart>
    </div>
  );
}

const dot = (r: number, fill: string) => (p: any) => <circle cx={p.cx} cy={p.cy} r={r} fill={fill} />;

function ScatterPanel({ cfg }: { cfg: any }) {
  const xMin = 3 - (cfg.x3 - cfg.left) / cfg.dx;
  const plotW = (SC_X_MAX - xMin) * cfg.dx;
  const negTicks: number[] = [];
  for (let v = cfg.zero - 0.08; v > xMin + 0.02; v -= 0.08) negTicks.push(v);
  const posTicks = [2, 3, 4, 5, 6, 7, 8, 9].map((k) => Math.log10(k * 100));
  const majors = [cfg.zero, 3, 4, 5];
  const xTicks = [...majors, ...negTicks, ...posTicks, ...logMinors(3, SC_X_MAX, [3, 4, 5])].sort((a, b) => a - b);
  return (
    <div style={{ position: "absolute", left: cfg.left - 70, top: cfg.top - 10 }}>
      <ScatterChart width={70 + plotW + 10} height={10 + cfg.h + 50} margin={{ top: 10, right: 10, bottom: 0, left: 0 }}>
        <XAxis
          type="number"
          dataKey="x"
          domain={[xMin, SC_X_MAX]}
          allowDataOverflow
          ticks={xTicks}
          interval={0}
          height={50}
          tickSize={0}
          tickMargin={0}
          tickLine={false}
          axisLine={{ stroke: INK, strokeWidth: 2.5 }}
          tick={(p: any) => <ScXTick {...p} labelDy={cfg.labelDy} majors={majors} />}
        />
        <YAxis
          type="number"
          dataKey="y"
          domain={SC_Y_DOMAIN}
          allowDataOverflow
          ticks={SC_Y_TICKS}
          interval={0}
          width={70}
          tickSize={0}
          tickMargin={0}
          tickLine={false}
          axisLine={{ stroke: INK, strokeWidth: 2.5 }}
          tick={(p: any) => <ScYTick {...p} />}
        />
        <Scatter data={cfg.blue} shape={dot(1.25, BLUE)} isAnimationActive={false} />
        {cfg.core.length > 0 && <Scatter data={cfg.core} shape={dot(3, BLUE)} isAnimationActive={false} />}
        <Scatter data={cfg.red} shape={dot(1, RED)} isAnimationActive={false} />
        <Scatter
          data={pts(gfpHighGate)}
          line={{ stroke: INK, strokeWidth: 1.4 }}
          lineType="joint"
          shape={() => <g />}
          isAnimationActive={false}
        />
        <ReferenceArea
          x1={xMin}
          x2={SC_X_MAX}
          y1={SC_Y_DOMAIN[0]}
          y2={SC_Y_DOMAIN[1]}
          fill="none"
          stroke={INK}
          strokeWidth={2.5}
          ifOverflow="visible"
        />
      </ScatterChart>
    </div>
  );
}

function High({ x, y, size = 21 }: { x: number; y: number; size?: number }) {
  return (
    <text x={x} y={y} fontSize={size} fill={INK}>
      GFP<tspan dx={1} dy={-10} fontSize={10}>High</tspan>
    </text>
  );
}

function Rot({ x, y, size, children }: any) {
  return (
    <text transform={`translate(${x},${y}) rotate(-90)`} textAnchor="middle" fontSize={size} fill={INK}>
      {children}
    </text>
  );
}

export default function App() {
  return (
    <div
      style={{
        position: "fixed",
        left: 0,
        top: 0,
        width: 1078,
        height: 1636,
        overflow: "hidden",
        background: "#fff",
        fontFamily: FONT,
      }}
    >
      {histPanels.map((cfg, i) => (
        <HistPanel key={"h" + i} cfg={cfg} />
      ))}
      {scatterPanels.map((cfg, i) => (
        <ScatterPanel key={"s" + i} cfg={cfg} />
      ))}

      <svg width={1078} height={1636} style={{ position: "absolute", left: 0, top: 0, pointerEvents: "none" }} fontFamily={FONT}>
        <text x={13} y={31.5} fontSize={23} fontWeight="bold" fill={INK}>A</text>
        <text x={13} y={825} fontSize={24} fontWeight="bold" fill={INK}>B</text>

        {/* histogram titles */}
        <text x={332} y={34} textAnchor="middle" fontSize={20} fontWeight="bold" fontStyle="italic" fill={INK}>fadD-gfp</text>
        <text x={330} y={451} textAnchor="middle" fontSize={20} fontWeight="bold" fontStyle="italic" fill={INK}>fadD-gfp</text>
        <text x={327} y={853} textAnchor="middle" fontSize={20} fontWeight="bold" fontStyle="italic" fill={INK}>fadD-gfp</text>
        <text x={330} y={1272.5} textAnchor="middle" fontSize={20} fontWeight="bold" fontStyle="italic" fill={INK}>fadD-gfp</text>

        {/* histogram axis titles */}
        <Rot x={42} y={181.5} size={23}>% of Max</Rot>
        <Rot x={42} y={605} size={23}>% of Max</Rot>
        <Rot x={41.5} y={1015} size={23}>% of Max</Rot>
        <Rot x={42.5} y={1418} size={23}>% of Max</Rot>
        <text x={322} y={388.5} textAnchor="middle" fontSize={22} fill={INK}>GFP</text>
        <text x={327} y={801} textAnchor="middle" fontSize={22} fill={INK}>GFP</text>
        <text x={330} y={1222} textAnchor="middle" fontSize={22} fill={INK}>GFP</text>
        <text x={334} y={1629} textAnchor="middle" fontSize={22} fill={INK}>GFP</text>

        {/* histogram annotations */}
        <text x={555} y={81.5} textAnchor="end" fontSize={21} fill={INK}>4.5 g/L Glc - 5 hs</text>
        <text x={561.5} y={498.3} textAnchor="end" fontSize={21} fill={INK}>0 g/L Glc + OA - 5 hs</text>
        <text x={555} y={906} textAnchor="end" fontSize={21} fill={INK}>4.5 g/L Glc - 24 hs</text>
        <text x={552.4} y={1314} textAnchor="end" fontSize={21} fill={INK}>0 g/L Glc + OA - 24 hs</text>
        <High x={394} y={233.3} />
        <High x={394} y={636.7} />
        <High x={394} y={1059} />
        <High x={389} y={1460} />

        {/* dot plot labels */}
        <Rot x={641.5} y={182.5} size={22}>SSC</Rot>
        <Rot x={643} y={591.5} size={22}>SSC</Rot>
        <Rot x={638} y={1006.7} size={22}>SSC</Rot>
        <Rot x={638} y={1422.5} size={22}>SSC</Rot>
        <text x={884} y={381.7} textAnchor="middle" fontSize={22} fill={INK}>GFP</text>
        <text x={867} y={810} textAnchor="middle" fontSize={22} fill={INK}>GFP</text>
        <text x={882.5} y={1213} textAnchor="middle" fontSize={22} fill={INK}>GFP</text>
        <text x={885} y={1630.5} textAnchor="middle" fontSize={22} fill={INK}>GFP</text>
        <High x={918} y={86.7} />
        <High x={911.7} y={500} />
        <High x={913.3} y={896.7} />
        <High x={914} y={1315} />
        <text x={874} y={142.7} fontSize={21} fill={INK}>1.2%</text>
        <text x={873.3} y={555} fontSize={21} fill={INK}>4.5%</text>
        <text x={876.7} y={953.3} fontSize={21} fill={INK}>1.8%</text>
        <text x={875.7} y={1376.7} fontSize={21} fill={INK}>5.9%</text>
      </svg>
    </div>
  );
}
